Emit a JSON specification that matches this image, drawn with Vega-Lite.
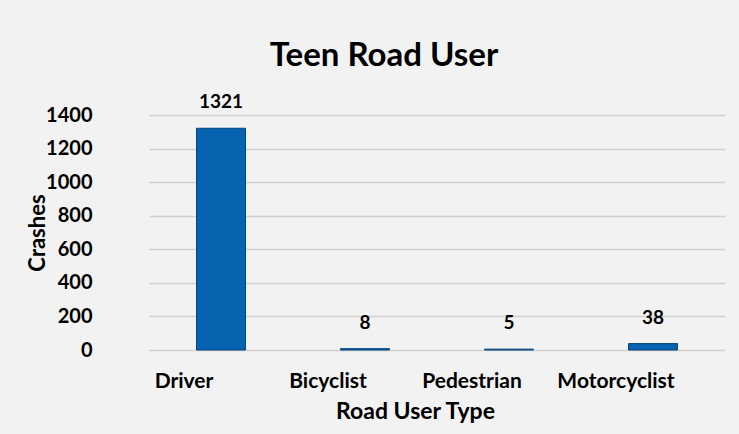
{
  "$schema": "https://vega.github.io/schema/vega-lite/v6.json",
  "width": 576,
  "height": 235,
  "autosize": "none",
  "padding": {"left": 149, "top": 115, "right": 14, "bottom": 84},
  "background": "#f2f2f2",
  "title": {
    "text": "Teen Road User",
    "font": "Lato",
    "fontSize": 33,
    "fontWeight": "bold",
    "color": "#000000",
    "anchor": "middle",
    "dx": -53,
    "offset": 20
  },
  "data": {
    "values": [
      {"type": "Driver", "crashes": 1321},
      {"type": "Bicyclist", "crashes": 8},
      {"type": "Pedestrian", "crashes": 5},
      {"type": "Motorcyclist", "crashes": 38}
    ]
  },
  "config": {
    "view": {"stroke": null},
    "font": "Lato"
  },
  "encoding": {
    "x": {
      "field": "type",
      "type": "nominal",
      "sort": null,
      "scale": {"paddingInner": 0.66, "paddingOuter": 0.33},
      "axis": {
        "title": "Road User Type",
        "titleFont": "Lato",
        "titleFontSize": 23,
        "titleFontWeight": "bold",
        "titleColor": "#000",
        "titlePadding": 9,
        "titleX": 266,
        "labelAngle": 0,
        "labelFont": "Lato",
        "labelFontSize": 21,
        "labelFontWeight": "bold",
        "labelColor": "#000",
        "labelPadding": 20,
        "labelOffset": -37,
        "domain": false,
        "ticks": false
      }
    },
    "y": {
      "field": "crashes",
      "type": "quantitative",
      "scale": {"domain": [0, 1400]},
      "axis": {
        "title": "Crashes",
        "titleFont": "Lato",
        "titleFontSize": 22,
        "titleFontWeight": "bold",
        "titleColor": "#000",
        "titlePadding": -4,
        "values": [0, 200, 400, 600, 800, 1000, 1200, 1400],
        "format": "d",
        "labelFont": "Lato",
        "labelFontSize": 20,
        "labelFontWeight": "bold",
        "labelColor": "#000",
        "labelPadding": 57,
        "domain": false,
        "ticks": false,
        "grid": true,
        "gridColor": "#d0d0d0",
        "gridWidth": 1.5
      }
    }
  },
  "layer": [
    {
      "mark": {"type": "bar", "color": "#0563b0", "stroke": "#03437a", "strokeWidth": 1}
    },
    {
      "mark": {"type": "text", "baseline": "bottom", "dy": -16, "font": "Lato", "fontSize": 19, "fontWeight": "bold", "color": "#000"},
      "encoding": {"text": {"field": "crashes", "type": "quantitative"}}
    }
  ]
}
